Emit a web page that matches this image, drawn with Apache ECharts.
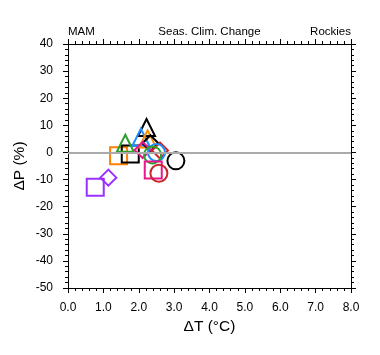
<!DOCTYPE html>
<html><head><meta charset="utf-8">
<script src="https://cdn.jsdelivr.net/npm/echarts@6/dist/echarts.min.js"></script>
<style>html,body{margin:0;padding:0;background:#fff}#c{width:380px;height:355px}</style>
</head><body><div id="c"></div>
<script>
// Data
var dT = [0.77, 1.14, 1.43, 1.76, 1.62, 2.22, 2.06, 2.25, 2.33, 2.11, 2.60, 2.50, 2.39, 3.05, 2.41, 2.57];
var dP = [-12.8, -9.3, -1.2, -0.6, 3.4, 9.2, 5.6, 5.0, 3.4, 0.9, 0.7, 0.0, -0.9, -3.1, -6.5, -7.7];
var xTicks = ['0.0','1.0','2.0','3.0','4.0','5.0','6.0','7.0','8.0'];
var yTicks = [-50,-40,-30,-20,-10,0,10,20,30,40];
// marker styles (separate from data)
var markerShape = ['rect','diamond','rect','rect','triangle','triangle','triangle','triangle','diamond','diamond','diamond','circle','circle','circle','rect','circle'];
var markerColor = ['#9b30ff','#9b30ff','#ff7f00','#000000','#2ca02c','#000000','#1e90ff','#ff8c00','#000000','#e6198c','#c8282d','#1e90ff','#2ca02c','#000000','#e6198c','#c8282d'];

var chart = echarts.init(document.getElementById('c'), null, {renderer:'canvas'});
var font = 'Liberation Sans, Arial, Helvetica, sans-serif';
var series = [{
  type:'line', data:[], silent:true,
  markLine:{silent:true, symbol:'none', label:{show:false},
    lineStyle:{color:'#aaaaaa', width:2, type:'solid', opacity:1},
    data:[{yAxis:0}]}, z:1
}];
for (var i=0;i<dT.length;i++){
  series.push({type:'scatter', z:3, data:[[dT[i], dP[i]]],
    symbol: markerShape[i], symbolSize: markerShape[i]==='diamond'?16:17,
    itemStyle:{color:'rgba(0,0,0,0)', borderColor: markerColor[i], borderWidth:2, opacity:1},
    emphasis:{disabled:true}});
}
var tickX = {show:true, inside:false, length:5, lineStyle:{color:'#000', width:1}};
var minorX = {show:true, splitNumber:5, length:3, lineStyle:{color:'#000', width:1}};
chart.setOption({
  animation:false,
  grid:{left:68, right:29, top:44, bottom:67},
  graphic:[
    {type:'text', left:68, top:26, style:{text:'MAM', font:'11.5px '+font, fill:'#000'}},
    {type:'text', x:209.5, y:26, style:{text:'Seas. Clim. Change', font:'11.5px '+font, fill:'#000', textAlign:'center'}},
    {type:'text', x:351, y:26, style:{text:'Rockies', font:'11.5px '+font, fill:'#000', textAlign:'right'}}
  ],
  xAxis:[{
    type:'value', min:0, max:8, interval:1, position:'bottom',
    name:'ΔT (°C)', nameLocation:'middle', nameGap:30,
    nameTextStyle:{fontSize:15.5, color:'#000', fontFamily:font},
    axisLine:{show:true, onZero:false, lineStyle:{color:'#000', width:1}},
    axisTick:tickX, minorTick:minorX, splitLine:{show:false},
    axisLabel:{margin:14, fontSize:12, color:'#000', fontFamily:font, formatter:function(v){return xTicks[Math.round(v)];}}
  },{
    type:'value', min:0, max:8, interval:1, position:'top',
    axisLine:{show:true, onZero:false, lineStyle:{color:'#000', width:1}},
    axisTick:tickX, minorTick:minorX, splitLine:{show:false}, axisLabel:{show:false}
  }],
  yAxis:[{
    type:'value', min:-50, max:40, interval:10, position:'left',
    name:'ΔP (%)', nameLocation:'middle', nameGap:40, nameRotate:90, nameMoveOverlap:false,
    nameTextStyle:{fontSize:15.5, color:'#000', fontFamily:font},
    axisLine:{show:true, onZero:false, lineStyle:{color:'#000', width:1}},
    axisTick:tickX, minorTick:minorX, splitLine:{show:false},
    axisLabel:{margin:15, fontSize:12, color:'#000', fontFamily:font, formatter:function(v){return String(yTicks[Math.round((v+50)/10)]);}}
  },{
    type:'value', min:-50, max:40, interval:10, position:'right',
    axisLine:{show:true, onZero:false, lineStyle:{color:'#000', width:1}},
    axisTick:tickX, minorTick:minorX, splitLine:{show:false}, axisLabel:{show:false}
  }],
  series: series
});
</script></body></html>
